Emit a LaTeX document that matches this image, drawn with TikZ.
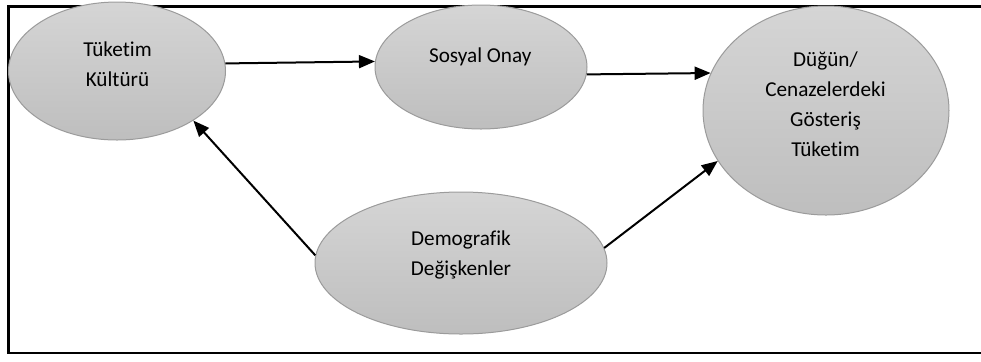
\documentclass[tikz,border=0pt]{standalone}
\usepackage{fontspec}
\setmainfont[Ligatures={NoCommon}]{Carlito}
\usetikzlibrary{arrows.meta,shapes.geometric}
\definecolor{colCizgi}{RGB}{155,155,155}
\definecolor{colUst}{RGB}{213,213,213}
\definecolor{colAlt}{RGB}{190,190,190}

\begin{document}
\begin{tikzpicture}[x=0.5pt, y=-0.5pt, font=\fontsize{10.6pt}{15pt}\selectfont,
    elp/.style={ellipse, draw=colCizgi, line width=0.5pt, top color=colUst,
      bottom color=colAlt, inner sep=0pt},
    yazi/.style={align=center, inner sep=0pt},
    fl/.style={-{Triangle[length=8pt,width=6.5pt]}, line width=1pt}]
  \useasboundingbox (0,0) rectangle (981,361);
  % cerceve
  \draw[line width=1.25pt] (990,6.5) -- (8.7,6.5) -- (8.7,353) -- (990,353);
  \node[elp, minimum width=108.5pt, minimum height=69pt] (kultur) at (117,71) {};
  \node[yazi] (kulturY) at (117.5,64) {Tüketim\\Kültürü};
  \node[elp, minimum width=106pt, minimum height=62pt] (onay) at (481,67) {};
  \node[yazi] (onayY) at (480.3,57) {Sosyal Onay};
  \node[elp, minimum width=123pt, minimum height=104.5pt] (gosteris)
    at (826,110.5) {};
  \node[yazi] (gosterisY) at (825.5,104.5)
    {Düğün/\\Cenazelerdeki\\Gösteriş\\Tüketim};
  \node[elp, minimum width=146pt, minimum height=71pt] (demog) at (461,263) {};
  \node[yazi] (demogY) at (461,255) {Demografik\\Değişkenler};
  \draw[fl] (kultur.4.8) -- (onay.177.3);
  \draw[fl] (onay.-4.35) -- (gosteris.162.9);
  \draw[fl] (demog.177.3) -- (kultur.-33);
  \draw[fl] (demog.6.3) -- (gosteris.-155.5);
\end{tikzpicture}
\end{document}
